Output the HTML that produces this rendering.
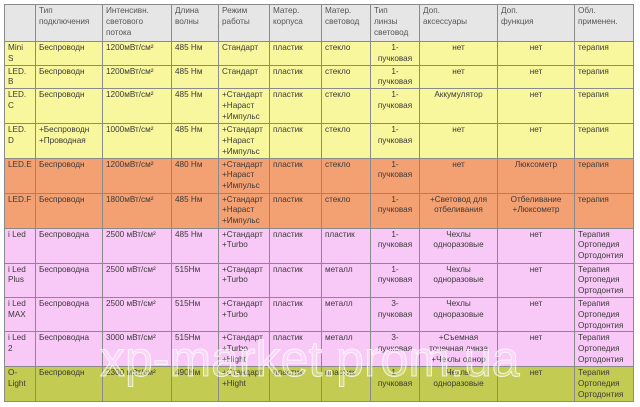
<!DOCTYPE html>
<html><head><meta charset="utf-8"><style>
body{margin:0;background:#fff;width:640px;height:407px;overflow:hidden;position:relative;font-family:"Liberation Sans","DejaVu Sans",sans-serif}
table{position:absolute;left:4px;top:4px;border-collapse:collapse;table-layout:fixed;width:629px}
td{border:1px solid #8a8a8a;vertical-align:top;font-size:8.2px;line-height:10.8px;color:#3a3a3a;padding:1px 3px 0 3px;overflow:hidden;white-space:nowrap;box-sizing:border-box}
tr.h td{background:#e6e6e6;color:#555}
tr.y td{background:#f8f79e}
tr.o td{background:#f3a172}
tr.p td{background:#f8c9f7}
tr.g td{background:#c3cb52}
.c{text-align:center}
.wm{position:absolute;left:100px;top:330px;font-size:50px;color:rgba(255,255,255,0.25);-webkit-text-stroke:1px rgba(255,255,255,0.75);white-space:nowrap}
</style></head><body>
<table>
<colgroup><col style="width:31px"><col style="width:67px"><col style="width:69px"><col style="width:47px"><col style="width:51px"><col style="width:52px"><col style="width:49px"><col style="width:49px"><col style="width:78px"><col style="width:77px"><col style="width:59px"></colgroup>
<tr class="h"><td style="height:37px"></td><td>Тип<br>подключения</td><td>Интенсивн.<br>светового<br>потока</td><td>Длина<br>волны</td><td>Режим<br>работы</td><td>Матер.<br>корпуса</td><td>Матер.<br>световод</td><td>Тип<br>линзы<br>световод</td><td>Доп.<br>аксессуары</td><td>Доп.<br>функция</td><td>Обл.<br>применен.</td></tr>
<tr class="y"><td style="height:22px">Mini<br>S</td><td>Беспроводн</td><td>1200мВт/см²</td><td>485 Нм</td><td>Стандарт</td><td>пластик</td><td>стекло</td><td class="c">1-<br>пучковая</td><td class="c">нет</td><td class="c">нет</td><td>терапия</td></tr>
<tr class="y"><td style="height:22px">LED.<br>B</td><td>Беспроводн</td><td>1200мВт/см²</td><td>485 Нм</td><td>Стандарт</td><td>пластик</td><td>стекло</td><td class="c">1-<br>пучковая</td><td class="c">нет</td><td class="c">нет</td><td>терапия</td></tr>
<tr class="y"><td style="height:35px">LED.<br>C</td><td>Беспроводн</td><td>1200мВт/см²</td><td>485 Нм</td><td>+Стандарт<br>+Нараст<br>+Импульс</td><td>пластик</td><td>стекло</td><td class="c">1-<br>пучковая</td><td class="c">Аккумулятор</td><td class="c">нет</td><td>терапия</td></tr>
<tr class="y"><td style="height:34px">LED.<br>D</td><td>+Беспроводн<br>+Проводная</td><td>1000мВт/см²</td><td>485 Нм</td><td>+Стандарт<br>+Нараст<br>+Импульс</td><td>пластик</td><td>стекло</td><td class="c">1-<br>пучковая</td><td class="c">нет</td><td class="c">нет</td><td>терапия</td></tr>
<tr class="o"><td style="height:35px">LED.E</td><td>Беспроводн</td><td>1200мВт/см²</td><td>480 Нм</td><td>+Стандарт<br>+Нараст<br>+Импульс</td><td>пластик</td><td>стекло</td><td class="c">1-<br>пучковая</td><td class="c">нет</td><td class="c">Люксометр</td><td>терапия</td></tr>
<tr class="o"><td style="height:35px">LED.F</td><td>Беспроводн</td><td>1800мВт/см²</td><td>485 Нм</td><td>+Стандарт<br>+Нараст<br>+Импульс</td><td>пластик</td><td>стекло</td><td class="c">1-<br>пучковая</td><td class="c">+Световод для<br>отбеливания</td><td class="c">Отбеливание<br>+Люксометр</td><td>терапия</td></tr>
<tr class="p"><td style="height:35px">i Led</td><td>Беспроводна</td><td>2500 мВт/см²</td><td>485 Нм</td><td>+Стандарт<br>+Turbo</td><td>пластик</td><td>пластик</td><td class="c">1-<br>пучковая</td><td class="c">Чехлы<br>одноразовые</td><td class="c">нет</td><td>Терапия<br>Ортопедия<br>Ортодонтия</td></tr>
<tr class="p"><td style="height:34px">i Led<br>Plus</td><td>Беспроводна</td><td>2500 мВт/см²</td><td>515Нм</td><td>+Стандарт<br>+Turbo</td><td>пластик</td><td>металл</td><td class="c">1-<br>пучковая</td><td class="c">Чехлы<br>одноразовые</td><td class="c">нет</td><td>Терапия<br>Ортопедия<br>Ортодонтия</td></tr>
<tr class="p"><td style="height:34px">i Led<br>MAX</td><td>Беспроводна</td><td>2500 мВт/см²</td><td>515Нм</td><td>+Стандарт<br>+Turbo</td><td>пластик</td><td>металл</td><td class="c">3-<br>пучковая</td><td class="c">Чехлы<br>одноразовые</td><td class="c">нет</td><td>Терапия<br>Ортопедия<br>Ортодонтия</td></tr>
<tr class="p"><td style="height:35px">i Led<br>2</td><td>Беспроводна</td><td>3000 мВт/см²</td><td>515Нм</td><td>+Стандарт<br>+Turbo<br>+Hight</td><td>пластик</td><td>металл</td><td class="c">3-<br>пучковая</td><td class="c">+Съемная<br>точечная линза<br>+Чехлы однор</td><td class="c">нет</td><td>Терапия<br>Ортопедия<br>Ортодонтия</td></tr>
<tr class="g"><td style="height:35px">O-<br>Light</td><td>Беспроводн</td><td>2300 мВт/см²</td><td>490Нм</td><td>+Стандарт<br>+Hight</td><td>пластик</td><td>пластик</td><td class="c">1-<br>пучковая</td><td class="c">Чехлы<br>одноразовые</td><td class="c">нет</td><td>Терапия<br>Ортопедия<br>Ортодонтия</td></tr>
</table>
<div class="wm">xp-market.prom.ua</div>
</body></html>
